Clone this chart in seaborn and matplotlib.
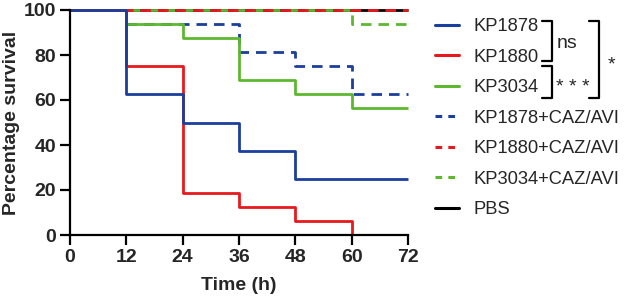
import numpy as np
import pandas as pd
import seaborn as sns
import matplotlib.pyplot as plt
from matplotlib.lines import Line2D

# survival data (percentage)
times = [0, 12, 24, 36, 48, 60, 72]
kp1878 = [100, 62.5, 50, 37.5, 25, 25, 25]
kp1880 = [100, 75, 18.75, 12.5, 6.25, 0]
kp3034 = [100, 93.75, 87.5, 68.75, 62.5, 56.25, 56.25]
kp1878_caz = [100, 93.75, 93.75, 81.25, 75, 62.5, 62.5]
kp1880_caz = [100, 100, 100, 100, 100, 100, 100]
kp3034_caz = [100, 100, 100, 100, 100, 93.75, 93.75]
pbs = [100, 100, 100, 100, 100, 100, 100]

blue = "#1B3F9C"
red = "#E8191C"
green = "#5DB82F"

sns.set_style("ticks")
plt.rcParams['font.family'] = ['Liberation Sans', 'DejaVu Sans']

fig = plt.figure(figsize=(6.24, 2.99), dpi=100)
ax = fig.add_axes([70/624, 1-235/299, (408-70)/624, (235-10)/299])

lw = 2.0
dash = (3.8, 2.5)
# draw order: PBS, dashed groups, then solid groups on top
series = [
    ("PBS", pbs, "black", "-"),
    ("KP1878+CAZ/AVI", kp1878_caz, blue, (0, dash)),
    ("KP3034+CAZ/AVI", kp3034_caz, green, (3.8, dash)),
    ("KP1880+CAZ/AVI", kp1880_caz, red, (0, dash)),
    ("KP3034", kp3034, green, "-"),
    ("KP1880", kp1880, red, "-"),
    ("KP1878", kp1878, blue, "-"),
]
for name, vals, col, ls in series:
    d = pd.DataFrame({"t": times[:len(vals)], "s": vals})
    sns.lineplot(data=d, x="t", y="s", ax=ax, color=col, linewidth=lw,
                 linestyle=ls, drawstyle="steps-post", clip_on=False,
                 solid_capstyle="butt", dash_capstyle="butt")

ax.set_xlim(0, 72)
ax.set_ylim(0, 100)
ax.set_xticks(range(0, 73, 12))
ax.set_yticks(range(0, 101, 20))
for s in ["top", "right"]:
    ax.spines[s].set_visible(False)
for s in ["left", "bottom"]:
    ax.spines[s].set_linewidth(1.6)
    ax.spines[s].set_color("black")
ax.tick_params(width=1.6, length=7, labelsize=14, color="black", pad=3)
for lab in ax.get_xticklabels() + ax.get_yticklabels():
    lab.set_fontweight("bold")
ax.set_xlabel("Time (h)", fontsize=14, fontweight="bold", labelpad=8)
ax.set_ylabel("Percentage survival", fontsize=14, fontweight="bold", labelpad=3)

# legend
order = ["KP1878", "KP1880", "KP3034", "KP1878+CAZ/AVI", "KP1880+CAZ/AVI",
         "KP3034+CAZ/AVI", "PBS"]
style = {n: (c, l) for n, _, c, l in series}
handles = []
for n in order:
    c, l = style[n]
    handles.append(Line2D([], [], color=c, lw=2.2,
                          linestyle="-" if l == "-" else (0, (2.2, 2))))
fig.legend(handles, order, loc="upper left", bbox_to_anchor=(435/624, 1-18/299),
           frameon=False, fontsize=13.2, handlelength=1.32, handletextpad=0.78,
           labelspacing=0.74, borderpad=0, borderaxespad=0)

# significance brackets
def fx(p):
    return p / 624

def fy(p):
    return 1 - p / 299

def bracket(x0, x1, y0, y1):
    fig.add_artist(Line2D([fx(x0), fx(x1), fx(x1), fx(x0)],
                          [fy(y0), fy(y0), fy(y1), fy(y1)],
                          color="black", lw=1.6))

bracket(542, 552, 21, 61)
bracket(542, 552, 66, 98)
bracket(589, 599, 21, 98)
fig.text(fx(567), fy(43), "ns", fontsize=14, ha="center", va="center")
fig.text(fx(573), fy(87), "* * *", fontsize=14, ha="center", va="center")
fig.text(fx(611), fy(65), "*", fontsize=14, ha="center", va="center")

fig.savefig("out.png", dpi=100)
